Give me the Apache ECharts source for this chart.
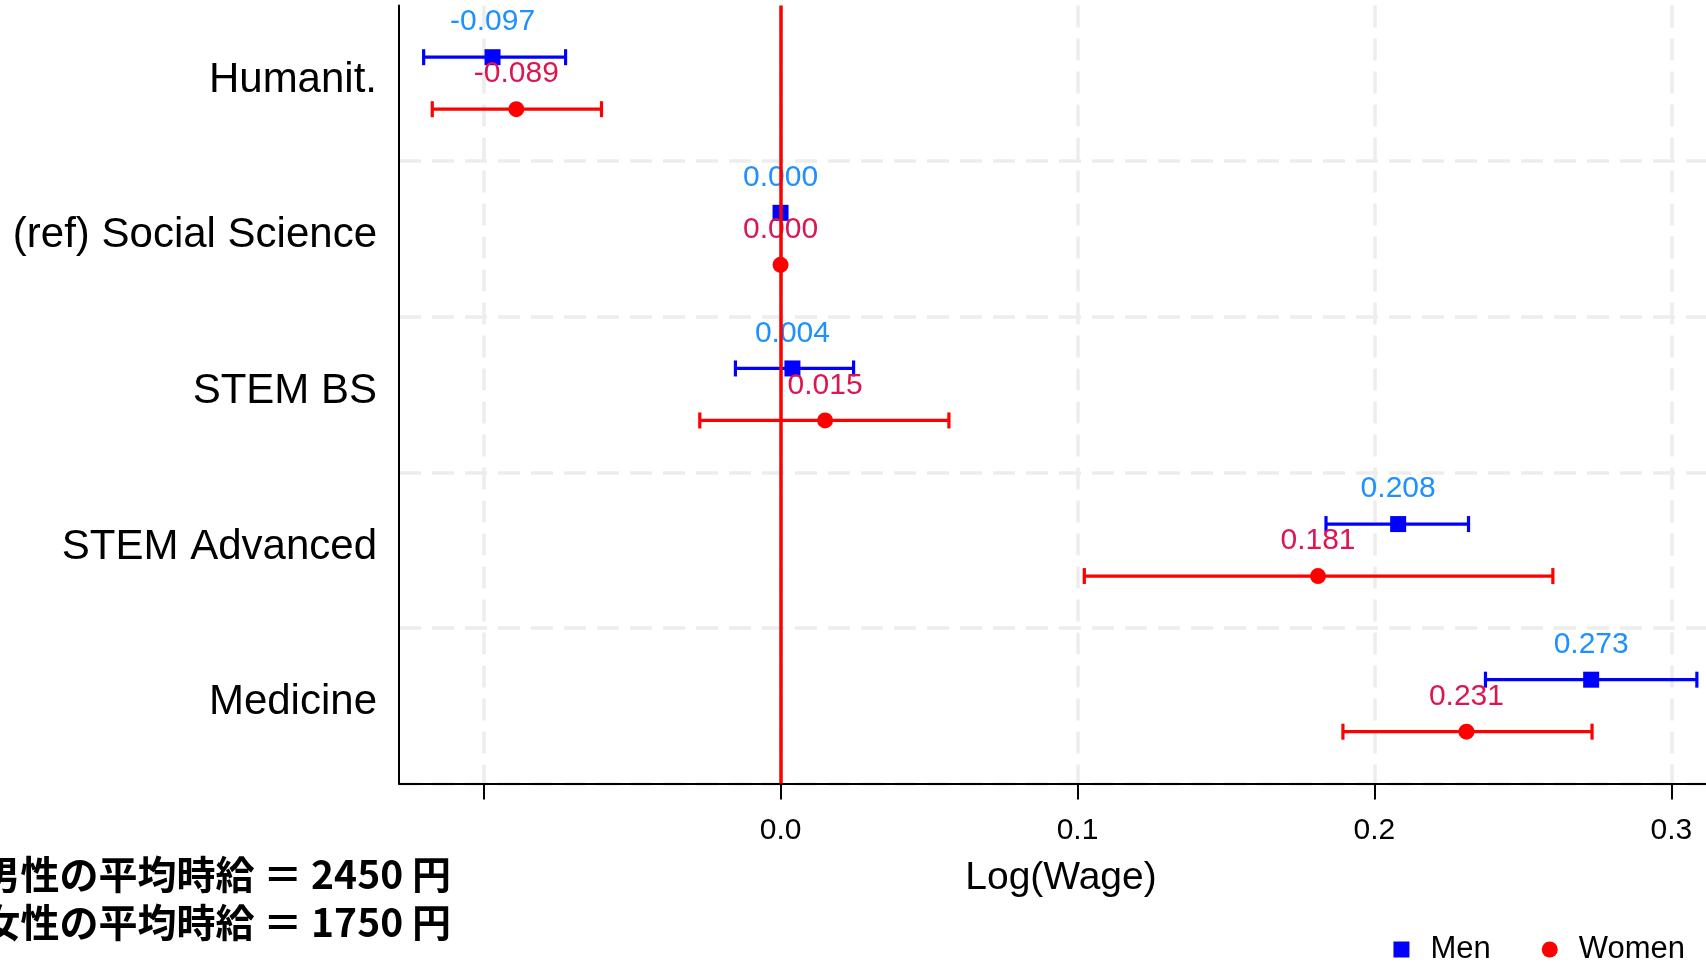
<!DOCTYPE html>
<html>
<head>
<meta charset="utf-8">
<script src="https://cdn.jsdelivr.net/npm/echarts@6/dist/echarts.min.js"></script>
<style>
html, body { margin: 0; padding: 0; background: #ffffff; }
#chart { width: 1706px; height: 963px; }
</style>
</head>
<body>
<div id="chart"></div>
<script>
// ---- data ----
const categories = ['Humanit.', '(ref) Social Science', 'STEM BS', 'STEM Advanced', 'Medicine'];
const menEst    = [-0.097, 0.000, 0.004, 0.208, 0.273];
const menLow    = [-0.1202, 0.000, -0.0152, 0.1837, 0.2374];
const menHigh   = [-0.0724, 0.000, 0.0246, 0.2317, 0.3086];
const womenEst  = [-0.089, 0.000, 0.015, 0.181, 0.231];
const womenLow  = [-0.1173, 0.000, -0.0272, 0.1023, 0.1894];
const womenHigh = [-0.0603, 0.000, 0.0567, 0.2601, 0.2733];
const xTickValues  = [-0.1, 0.0, 0.1, 0.2, 0.3];
const xLabelValues = [0.0, 0.1, 0.2, 0.3];
const xMin = -0.1285;
const xMax = 0.3174;
const noteLines = ['男性の平均時給 ＝ 2450 円', '女性の平均時給 ＝ 1750 円'];

// ---- styles ----
const FONT = '"Liberation Sans", Arial, Helvetica, sans-serif';
const DODGE = 26;
const GRID_LINE = { color: '#EDEDED', width: 3.5, type: [22, 11] };

function errorBar(color, dir) {
  return function (params, api) {
    const cat = api.value(2);
    const p1 = api.coord([api.value(0), cat]);
    const p2 = api.coord([api.value(1), cat]);
    const y = p1[1] + dir * DODGE;
    const cap = 8;
    const style = { stroke: color, lineWidth: 3.2, fill: null };
    return {
      type: 'group',
      children: [
        { type: 'line', shape: { x1: p1[0], y1: y, x2: p2[0], y2: y }, style: style },
        { type: 'line', shape: { x1: p1[0], y1: y - cap, x2: p1[0], y2: y + cap }, style: style },
        { type: 'line', shape: { x1: p2[0], y1: y - cap, x2: p2[0], y2: y + cap }, style: style }
      ]
    };
  };
}

const menBars = categories.map((c, i) => [menLow[i], menHigh[i], i]);
const womenBars = categories.map((c, i) => [womenLow[i], womenHigh[i], i]);
const menPts = categories.map((c, i) => [menEst[i], i]);
const womenPts = categories.map((c, i) => [womenEst[i], i]);

const chart = echarts.init(document.getElementById('chart'), null, { renderer: 'canvas' });

chart.setOption({
  animation: false,
  backgroundColor: '#ffffff',
  grid: { left: 399, right: -17, top: 5.4, bottom: 179.5, containLabel: false, outerBoundsMode: 'none' },
  xAxis: {
    type: 'value',
    min: xMin,
    max: xMax,
    minInterval: 0.1,
    maxInterval: 0.1,
    name: 'Log(Wage)',
    nameLocation: 'middle',
    nameGap: 75,
    nameTextStyle: { fontSize: 39, color: '#000', fontFamily: FONT },
    axisLine: { show: true, onZero: false, lineStyle: { color: '#000', width: 2 } },
    axisTick: { show: true, length: 16, customValues: xTickValues, lineStyle: { color: '#000', width: 2 } },
    axisLabel: {
      show: true, customValues: xLabelValues, margin: 32,
      fontSize: 30, color: '#000', fontFamily: FONT,
      formatter: function (v) { return Number(v).toFixed(1); }
    },
    splitLine: { show: true, lineStyle: GRID_LINE }
  },
  yAxis: {
    type: 'category',
    data: categories,
    inverse: true,
    axisLine: { show: true, onZero: false, lineStyle: { color: '#000', width: 2 } },
    axisTick: { show: false },
    axisLabel: {
      margin: 22,
      formatter: function (v) { return '{c|' + v + '}'; },
      rich: { c: { fontSize: 42, color: '#000', fontFamily: FONT, padding: [0, 0, 6, 0] } }
    },
    splitLine: { show: true, interval: function (i) { return i > 0; }, lineStyle: GRID_LINE }
  },
  legend: {
    right: 16,
    top: 929,
    itemWidth: 16,
    itemHeight: 16,
    itemGap: 51,
    textStyle: { fontSize: 31, color: '#000', fontFamily: FONT, padding: [0, 0, 0, 16] },
    data: [
      { name: 'Men', icon: 'rect', itemStyle: { color: '#0000FF', opacity: 1 } },
      { name: 'Women', icon: 'circle', itemStyle: { color: '#FF0000', opacity: 1 } }
    ]
  },
  graphic: noteLines.map(function (t, i) {
    return {
      type: 'text',
      x: 451,
      y: 874 + i * 48,
      style: {
        text: t,
        fill: '#000',
        fontSize: 39,
        fontWeight: 'bold',
        fontFamily: '"Noto Sans CJK JP", sans-serif',
        align: 'right',
        verticalAlign: 'middle'
      }
    };
  }),
  series: [
    {
      name: 'zero line',
      type: 'custom',
      silent: true,
      z: 1,
      data: [],
      renderItem: function () { return null; },
      markLine: {
        silent: true,
        symbol: 'none',
        label: { show: false },
        lineStyle: { color: '#FF0000', width: 3.5, type: 'solid' },
        data: [{ xAxis: 0 }]
      }
    },
    {
      name: 'Men CI',
      type: 'custom',
      z: 2,
      renderItem: errorBar('#0000FF', -1),
      encode: { x: [0, 1], y: 2 },
      data: menBars
    },
    {
      name: 'Women CI',
      type: 'custom',
      z: 2,
      renderItem: errorBar('#FF0000', 1),
      encode: { x: [0, 1], y: 2 },
      data: womenBars
    },
    {
      name: 'Men',
      type: 'scatter',
      z: 3,
      symbol: 'rect',
      symbolSize: 16,
      symbolOffset: [0, -DODGE],
      itemStyle: { color: '#0000FF', opacity: 1 },
      label: {
        show: true, position: 'top', distance: 12, opacity: 1,
        color: '#1E90FF', fontSize: 30, fontFamily: FONT,
        formatter: function (p) { return p.value[0].toFixed(3); }
      },
      data: menPts
    },
    {
      name: 'Women',
      type: 'scatter',
      z: 3,
      symbol: 'circle',
      symbolSize: 16,
      symbolOffset: [0, DODGE],
      itemStyle: { color: '#FF0000', opacity: 1 },
      label: {
        show: true, position: 'top', distance: 12, opacity: 1,
        color: '#DC1650', fontSize: 30, fontFamily: FONT,
        formatter: function (p) { return p.value[0].toFixed(3); }
      },
      data: womenPts
    }
  ]
});
</script>
</body>
</html>
